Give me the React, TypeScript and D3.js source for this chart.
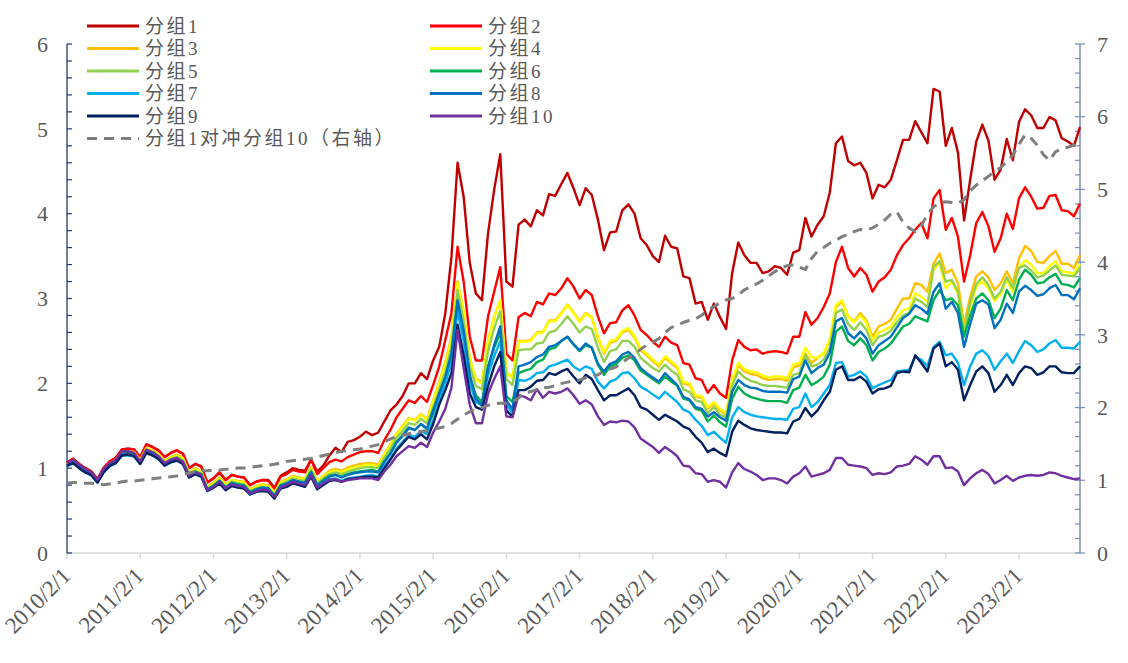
import * as d3 from "d3";

// month index 0 = 2010/2 ... 166 = 2023/12
const xTickLabels = [
  "2010/2/1", "2011/2/1", "2012/2/1", "2013/2/1", "2014/2/1", "2015/2/1", "2016/2/1",
  "2017/2/1", "2018/2/1", "2019/2/1", "2020/2/1", "2021/2/1", "2022/2/1", "2023/2/1",
];

const g1 = [
  1.07, 1.11, 1.05, 1.0, 0.96, 0.87, 1.0, 1.08, 1.12, 1.22, 1.23, 1.22, 1.13, 1.28, 1.25, 1.21, 1.13, 1.18, 1.21, 1.17,
  1.0, 1.05, 1.02, 0.83, 0.88, 0.95, 0.86, 0.92, 0.9, 0.89, 0.8, 0.84, 0.86, 0.86, 0.77, 0.91, 0.95, 1.0, 0.98, 0.97,
  1.1, 0.96, 1.03, 1.15, 1.24, 1.19, 1.31, 1.33, 1.37, 1.43, 1.39, 1.42, 1.55, 1.68, 1.75, 1.85, 2.0, 2.0, 2.12, 2.05,
  2.27, 2.43, 2.83, 3.49, 4.6, 4.2, 3.42, 3.06, 2.98, 3.77, 4.28, 4.7, 3.2, 3.14, 3.87, 3.93, 3.85, 4.04, 3.98, 4.23,
  4.21, 4.35, 4.48, 4.3, 4.1, 4.3, 4.22, 3.93, 3.57, 3.78, 3.79, 4.04, 4.11, 4.0, 3.71, 3.63, 3.5, 3.43, 3.74, 3.61,
  3.59, 3.26, 3.24, 2.94, 2.96, 2.75, 2.94, 2.78, 2.64, 3.3, 3.66, 3.51, 3.42, 3.42, 3.3, 3.32, 3.38, 3.36, 3.28, 3.54,
  3.57, 3.95, 3.73, 3.87, 3.97, 4.25, 4.83, 4.91, 4.62, 4.57, 4.6, 4.48, 4.18, 4.34, 4.31, 4.4, 4.63, 4.87, 4.87, 5.09,
  4.96, 4.83, 5.47, 5.44, 4.8, 5.01, 4.72, 3.92, 4.4, 4.85, 5.05, 4.86, 4.4, 4.52, 4.88, 4.63, 5.08, 5.23, 5.16, 5.01,
  5.01, 5.14, 5.1, 4.89, 4.85, 4.8, 5.02,
];

const g2 = [
  1.07, 1.11, 1.05, 1.0, 0.96, 0.87, 1.0, 1.08, 1.12, 1.22, 1.23, 1.22, 1.13, 1.28, 1.25, 1.21, 1.13, 1.18, 1.21, 1.17,
  1.0, 1.05, 1.02, 0.83, 0.88, 0.95, 0.86, 0.92, 0.9, 0.89, 0.8, 0.84, 0.86, 0.85, 0.76, 0.9, 0.93, 0.98, 0.96, 0.95,
  1.1, 0.93, 1.0, 1.07, 1.1, 1.08, 1.13, 1.16, 1.19, 1.2, 1.2, 1.18, 1.33, 1.45, 1.6, 1.7, 1.8, 1.77, 1.85, 1.78,
  1.98, 2.2, 2.51, 2.83, 3.61, 3.2, 2.55, 2.27, 2.27, 2.79, 3.08, 3.37, 2.35, 2.27, 2.78, 2.83, 2.79, 2.96, 2.93, 3.06,
  3.04, 3.12, 3.24, 3.14, 3.0, 3.1, 3.04, 2.79, 2.59, 2.71, 2.72, 2.86, 2.92, 2.8, 2.63, 2.57, 2.49, 2.43, 2.55, 2.48,
  2.45, 2.24, 2.22, 2.06, 2.04, 1.89, 1.98, 1.88, 1.83, 2.27, 2.51, 2.43, 2.39, 2.4, 2.35, 2.37, 2.38, 2.37, 2.35, 2.55,
  2.55, 2.84, 2.69, 2.77, 2.9, 3.06, 3.43, 3.61, 3.36, 3.26, 3.36, 3.28, 3.08, 3.2, 3.25, 3.34, 3.51, 3.63, 3.71, 3.81,
  3.89, 3.71, 4.18, 4.28, 3.81, 3.95, 3.73, 3.2, 3.51, 3.89, 4.02, 3.85, 3.55, 3.71, 4.0, 3.82, 4.18, 4.31, 4.2, 4.06,
  4.07, 4.21, 4.22, 4.04, 4.03, 3.97, 4.12,
];

const g3 = [
  1.05, 1.09, 1.03, 0.98, 0.94, 0.85, 0.98, 1.06, 1.1, 1.19, 1.2, 1.19, 1.1, 1.24, 1.21, 1.17, 1.09, 1.13, 1.16, 1.12,
  0.95, 1.0, 0.96, 0.78, 0.83, 0.89, 0.81, 0.86, 0.85, 0.84, 0.75, 0.79, 0.81, 0.8, 0.71, 0.84, 0.87, 0.91, 0.89, 0.88,
  1.01, 0.85, 0.91, 0.97, 0.99, 0.97, 1.01, 1.03, 1.05, 1.06, 1.06, 1.04, 1.17, 1.28, 1.41, 1.5, 1.59, 1.57, 1.64, 1.58,
  1.8, 2.02, 2.25, 2.55, 3.2, 2.85, 2.3, 2.05, 2.02, 2.5, 2.78, 2.98, 2.13, 2.07, 2.5, 2.5, 2.51, 2.6, 2.61, 2.74,
  2.74, 2.83, 2.93, 2.84, 2.73, 2.83, 2.78, 2.53, 2.35, 2.48, 2.5, 2.6, 2.63, 2.54, 2.39, 2.33, 2.26, 2.2, 2.3, 2.24,
  2.18, 2.0, 1.98, 1.84, 1.83, 1.7, 1.76, 1.68, 1.63, 2.02, 2.21, 2.14, 2.11, 2.1, 2.06, 2.04, 2.05, 2.05, 2.03, 2.19,
  2.21, 2.35, 2.24, 2.3, 2.35, 2.51, 2.9, 2.96, 2.79, 2.73, 2.83, 2.74, 2.55, 2.67, 2.7, 2.75, 2.88, 3.0, 3.0, 3.18,
  3.16, 3.08, 3.41, 3.53, 3.3, 3.34, 3.18, 2.69, 3.02, 3.26, 3.32, 3.25, 3.1, 3.18, 3.32, 3.18, 3.47, 3.62, 3.56, 3.43,
  3.42, 3.5, 3.56, 3.41, 3.41, 3.36, 3.51,
];

const g4 = [
  1.04, 1.08, 1.02, 0.97, 0.93, 0.84, 0.97, 1.05, 1.08, 1.18, 1.19, 1.18, 1.09, 1.23, 1.2, 1.16, 1.08, 1.12, 1.15, 1.11,
  0.94, 0.99, 0.95, 0.77, 0.82, 0.88, 0.8, 0.86, 0.84, 0.83, 0.74, 0.78, 0.8, 0.79, 0.7, 0.83, 0.86, 0.9, 0.88, 0.87,
  1.0, 0.84, 0.9, 0.95, 0.97, 0.95, 0.99, 1.0, 1.02, 1.04, 1.04, 1.02, 1.16, 1.27, 1.4, 1.49, 1.58, 1.56, 1.63, 1.57,
  1.78, 2.0, 2.22, 2.52, 3.18, 2.83, 2.28, 2.04, 2.0, 2.5, 2.78, 2.98, 2.12, 2.06, 2.49, 2.49, 2.5, 2.59, 2.6, 2.73,
  2.73, 2.82, 2.92, 2.83, 2.72, 2.82, 2.77, 2.55, 2.37, 2.5, 2.52, 2.62, 2.65, 2.56, 2.41, 2.35, 2.28, 2.22, 2.32, 2.26,
  2.2, 2.02, 2.0, 1.86, 1.85, 1.72, 1.78, 1.7, 1.65, 2.05, 2.24, 2.17, 2.14, 2.13, 2.09, 2.07, 2.08, 2.08, 2.06, 2.22,
  2.24, 2.42, 2.31, 2.3, 2.36, 2.52, 2.92, 2.98, 2.78, 2.72, 2.8, 2.71, 2.51, 2.6, 2.63, 2.67, 2.78, 2.86, 2.88, 3.06,
  3.02, 2.96, 3.34, 3.41, 3.12, 3.2, 3.05, 2.63, 2.9, 3.14, 3.2, 3.12, 2.97, 3.05, 3.22, 3.08, 3.36, 3.45, 3.4, 3.3,
  3.3, 3.38, 3.44, 3.32, 3.31, 3.29, 3.41,
];

const g5 = [
  1.04, 1.08, 1.02, 0.97, 0.93, 0.84, 0.97, 1.04, 1.08, 1.17, 1.18, 1.17, 1.08, 1.22, 1.19, 1.15, 1.07, 1.11, 1.13, 1.09,
  0.93, 0.97, 0.94, 0.76, 0.8, 0.86, 0.78, 0.84, 0.82, 0.81, 0.73, 0.76, 0.78, 0.77, 0.69, 0.81, 0.84, 0.88, 0.86, 0.85,
  0.98, 0.82, 0.88, 0.93, 0.95, 0.93, 0.96, 0.98, 1.0, 1.01, 1.01, 1.0, 1.12, 1.23, 1.36, 1.44, 1.53, 1.51, 1.58, 1.53,
  1.72, 1.93, 2.14, 2.43, 3.1, 2.73, 2.2, 1.97, 1.93, 2.38, 2.65, 2.85, 2.05, 1.98, 2.39, 2.4, 2.4, 2.47, 2.48, 2.6,
  2.62, 2.7, 2.79, 2.7, 2.6, 2.67, 2.64, 2.42, 2.25, 2.38, 2.4, 2.5, 2.5, 2.43, 2.3, 2.24, 2.18, 2.14, 2.22, 2.15,
  2.1, 1.93, 1.9, 1.8, 1.78, 1.65, 1.72, 1.63, 1.6, 1.97, 2.14, 2.07, 2.03, 2.01, 1.98, 1.97, 1.97, 1.96, 1.95, 2.1,
  2.12, 2.33, 2.2, 2.22, 2.28, 2.42, 2.83, 2.87, 2.7, 2.63, 2.72, 2.63, 2.45, 2.55, 2.57, 2.62, 2.72, 2.8, 2.83, 3.0,
  2.96, 2.9, 3.37, 3.44, 3.2, 3.22, 3.08, 2.6, 2.95, 3.17, 3.25, 3.16, 3.0, 3.08, 3.25, 3.12, 3.36, 3.39, 3.33, 3.25,
  3.27, 3.33, 3.39, 3.28, 3.27, 3.26, 3.36,
];

const g6 = [
  1.03, 1.07, 1.01, 0.96, 0.92, 0.84, 0.96, 1.04, 1.07, 1.17, 1.18, 1.16, 1.07, 1.21, 1.18, 1.13, 1.05, 1.1, 1.12, 1.08,
  0.92, 0.96, 0.93, 0.75, 0.79, 0.85, 0.77, 0.83, 0.81, 0.8, 0.72, 0.75, 0.77, 0.76, 0.68, 0.8, 0.82, 0.86, 0.84, 0.83,
  0.96, 0.8, 0.86, 0.91, 0.92, 0.9, 0.93, 0.95, 0.96, 0.97, 0.98, 0.96, 1.08, 1.18, 1.31, 1.39, 1.48, 1.45, 1.52, 1.46,
  1.65, 1.85, 2.05, 2.32, 2.95, 2.6, 2.08, 1.86, 1.78, 2.2, 2.42, 2.6, 1.85, 1.78, 2.12, 2.15, 2.17, 2.25, 2.28, 2.4,
  2.42, 2.5, 2.55, 2.46, 2.38, 2.45, 2.42, 2.22, 2.1, 2.2, 2.23, 2.3, 2.33, 2.27, 2.15, 2.1, 2.05, 2.0, 2.08, 2.02,
  1.97, 1.82, 1.8, 1.7, 1.68, 1.55, 1.62, 1.54, 1.49, 1.82, 1.96, 1.88, 1.84, 1.82, 1.8, 1.79, 1.79, 1.79, 1.77, 1.92,
  1.95, 2.1, 1.98, 2.02, 2.08, 2.22, 2.61, 2.67, 2.5, 2.45, 2.53, 2.45, 2.27, 2.37, 2.41, 2.47, 2.57, 2.67, 2.7, 2.79,
  2.76, 2.73, 2.98, 3.1, 2.98, 3.0, 2.92, 2.55, 2.8, 3.0, 3.06, 2.98, 2.77, 2.88, 3.1, 2.98, 3.22, 3.34, 3.28, 3.18,
  3.19, 3.25, 3.29, 3.17, 3.16, 3.13, 3.24,
];

const g7 = [
  1.02, 1.06, 1.0, 0.95, 0.91, 0.83, 0.95, 1.02, 1.06, 1.15, 1.15, 1.14, 1.05, 1.18, 1.15, 1.11, 1.03, 1.07, 1.09, 1.05,
  0.89, 0.93, 0.9, 0.73, 0.77, 0.83, 0.75, 0.8, 0.78, 0.77, 0.69, 0.73, 0.74, 0.74, 0.65, 0.77, 0.79, 0.83, 0.81, 0.8,
  0.92, 0.77, 0.82, 0.87, 0.88, 0.85, 0.88, 0.89, 0.9, 0.91, 0.92, 0.9, 1.02, 1.11, 1.23, 1.31, 1.39, 1.37, 1.44, 1.4,
  1.56, 1.8, 2.0, 2.25, 2.85, 2.5, 2.0, 1.78, 1.74, 2.1, 2.32, 2.5, 1.75, 1.65, 2.04, 2.03, 2.06, 2.12, 2.13, 2.2,
  2.22, 2.25, 2.28, 2.2, 2.15, 2.2, 2.17, 2.02, 1.94, 2.02, 2.05, 2.12, 2.13, 2.06, 1.96, 1.92, 1.87, 1.82, 1.9, 1.84,
  1.78, 1.69, 1.66, 1.57, 1.5, 1.39, 1.43, 1.36, 1.3, 1.6, 1.72, 1.66, 1.63, 1.61, 1.6, 1.59, 1.58, 1.58, 1.57, 1.7,
  1.72, 1.88, 1.72, 1.78, 1.88, 1.98, 2.24, 2.25, 2.08, 2.1, 2.14, 2.08, 1.94, 1.98, 2.01, 2.04, 2.14, 2.15, 2.16, 2.31,
  2.28, 2.2, 2.43, 2.49, 2.33, 2.35, 2.24, 1.98, 2.2, 2.35, 2.39, 2.32, 2.16, 2.26, 2.35, 2.24, 2.38, 2.5, 2.45, 2.37,
  2.4, 2.47, 2.51, 2.42, 2.42, 2.41, 2.49,
];

const g8 = [
  1.03, 1.07, 1.01, 0.96, 0.92, 0.84, 0.96, 1.03, 1.07, 1.16, 1.17, 1.15, 1.07, 1.2, 1.17, 1.13, 1.05, 1.09, 1.11, 1.07,
  0.91, 0.95, 0.92, 0.75, 0.79, 0.85, 0.77, 0.82, 0.8, 0.79, 0.71, 0.75, 0.77, 0.76, 0.67, 0.79, 0.82, 0.86, 0.84, 0.83,
  0.95, 0.8, 0.85, 0.9, 0.92, 0.89, 0.92, 0.94, 0.95, 0.96, 0.96, 0.95, 1.07, 1.17, 1.3, 1.38, 1.47, 1.45, 1.52, 1.47,
  1.68, 1.88, 2.08, 2.35, 2.98, 2.62, 2.1, 1.82, 1.74, 2.18, 2.45, 2.67, 1.8, 1.69, 2.2, 2.22, 2.25, 2.31, 2.34, 2.43,
  2.45, 2.5, 2.55, 2.46, 2.39, 2.47, 2.42, 2.23, 2.14, 2.23, 2.26, 2.34, 2.37, 2.3, 2.18, 2.12, 2.07, 2.02, 2.12, 2.05,
  1.98, 1.84, 1.81, 1.72, 1.7, 1.61, 1.66, 1.6, 1.56, 1.9, 2.04, 1.98, 1.95, 1.94, 1.91, 1.9, 1.9, 1.9, 1.89, 2.05,
  2.08, 2.27, 2.12, 2.18, 2.22, 2.36, 2.73, 2.77, 2.59, 2.53, 2.61, 2.53, 2.35, 2.45, 2.5, 2.55, 2.66, 2.77, 2.82, 2.92,
  2.88, 2.82, 3.08, 3.18, 2.88, 2.96, 2.83, 2.43, 2.7, 2.94, 2.98, 2.93, 2.65, 2.75, 2.94, 2.83, 3.08, 3.15, 3.1, 3.03,
  3.05, 3.12, 3.16, 3.04, 3.04, 2.99, 3.12,
];

const g9 = [
  1.03, 1.06, 1.0, 0.95, 0.92, 0.83, 0.95, 1.03, 1.06, 1.15, 1.16, 1.14, 1.05, 1.18, 1.15, 1.11, 1.03, 1.07, 1.09, 1.05,
  0.89, 0.93, 0.9, 0.73, 0.77, 0.82, 0.74, 0.79, 0.77, 0.76, 0.69, 0.72, 0.73, 0.72, 0.64, 0.76, 0.78, 0.82, 0.8, 0.78,
  0.9, 0.75, 0.8, 0.85, 0.86, 0.84, 0.87, 0.88, 0.89, 0.9, 0.9, 0.89, 1.0, 1.1, 1.21, 1.29, 1.37, 1.34, 1.4, 1.34,
  1.52, 1.75, 1.92, 2.12, 2.69, 2.33, 1.88, 1.72, 1.69, 1.97, 2.2, 2.37, 1.68, 1.61, 1.92, 1.92, 1.96, 2.03, 2.04, 2.12,
  2.1, 2.14, 2.17, 2.08, 2.0, 2.1, 2.05, 1.92, 1.8, 1.86, 1.86, 1.9, 1.94, 1.86, 1.72, 1.69, 1.63, 1.57, 1.63, 1.59,
  1.55, 1.49, 1.46, 1.37, 1.3, 1.19, 1.23, 1.18, 1.14, 1.43, 1.56, 1.51, 1.47, 1.45, 1.44, 1.43, 1.42, 1.42, 1.41, 1.55,
  1.58, 1.71, 1.61, 1.68, 1.8, 1.9, 2.16, 2.2, 2.04, 2.04, 2.08, 2.02, 1.88, 1.93, 1.94, 1.97, 2.12, 2.14, 2.13, 2.33,
  2.24, 2.14, 2.41, 2.47, 2.2, 2.25, 2.16, 1.8, 1.98, 2.14, 2.2, 2.12, 1.9, 1.98, 2.1, 1.98, 2.12, 2.2, 2.18, 2.1,
  2.13, 2.2, 2.2, 2.13, 2.12, 2.12, 2.2,
];

const g10 = [
  1.06, 1.1, 1.04, 0.99, 0.95, 0.86, 0.99, 1.06, 1.1, 1.2, 1.2, 1.18, 1.08, 1.22, 1.19, 1.14, 1.06, 1.1, 1.12, 1.07,
  0.91, 0.95, 0.92, 0.74, 0.78, 0.84, 0.76, 0.81, 0.79, 0.78, 0.7, 0.73, 0.75, 0.74, 0.66, 0.77, 0.8, 0.84, 0.82, 0.8,
  0.92, 0.77, 0.82, 0.86, 0.87, 0.84, 0.86, 0.87, 0.88, 0.88, 0.88, 0.86, 0.96, 1.04, 1.14, 1.2, 1.26, 1.24, 1.3, 1.25,
  1.42, 1.55, 1.7, 1.95, 2.63, 2.18, 1.75, 1.53, 1.53, 1.88, 2.05, 2.2, 1.61, 1.6, 1.86, 1.84, 1.8, 1.93, 1.83, 1.9,
  1.88, 1.9, 1.94, 1.86, 1.76, 1.8, 1.75, 1.61, 1.51, 1.55, 1.54, 1.56, 1.55, 1.48, 1.35, 1.3, 1.25, 1.18, 1.25, 1.2,
  1.14, 1.03, 1.02, 0.94, 0.93, 0.84, 0.86, 0.84, 0.77, 0.95, 1.06, 0.99, 0.96, 0.92, 0.86, 0.88, 0.88, 0.86, 0.82, 0.9,
  0.94, 1.02, 0.9, 0.92, 0.94, 0.98, 1.12, 1.12, 1.04, 1.03, 1.02, 1.0, 0.92, 0.94, 0.93, 0.95, 1.02, 1.03, 1.05, 1.14,
  1.1, 1.04, 1.14, 1.14, 1.0, 1.01, 0.96, 0.8, 0.88, 0.94, 0.98, 0.93, 0.82, 0.86, 0.91, 0.85, 0.89, 0.91, 0.92, 0.91,
  0.92, 0.95, 0.94, 0.91, 0.89, 0.87, 0.88,
];

// 分组1对冲分组10, right axis
const hedge = [
  0.96, 0.97, 0.97, 0.96, 0.96, 0.95, 0.94, 0.95, 0.96, 0.98, 0.99, 0.99, 1.0, 1.01, 1.02, 1.03, 1.04, 1.05, 1.06, 1.08,
  1.1, 1.12, 1.13, 1.13, 1.14, 1.14, 1.15, 1.16, 1.17, 1.17, 1.18, 1.19, 1.2, 1.21, 1.22, 1.24, 1.26, 1.27, 1.28, 1.29,
  1.3, 1.32, 1.34, 1.36, 1.38, 1.4, 1.41, 1.42, 1.43, 1.45, 1.47, 1.49, 1.53, 1.57, 1.6, 1.62, 1.64, 1.66, 1.67, 1.68,
  1.7, 1.72, 1.74, 1.78, 1.84, 1.9, 1.94, 1.98, 2.0, 2.03, 2.05, 2.06, 2.06, 2.08, 2.13, 2.2, 2.22, 2.25, 2.27, 2.28,
  2.3, 2.33, 2.35, 2.37, 2.38, 2.41, 2.43, 2.45, 2.5, 2.53, 2.56, 2.62, 2.68, 2.74, 2.8, 2.86, 2.9, 2.95, 3.03, 3.1,
  3.13, 3.17, 3.2, 3.22, 3.27, 3.33, 3.39, 3.44, 3.48, 3.5, 3.55, 3.62, 3.66, 3.7, 3.75, 3.81, 3.87, 3.92, 3.95, 3.96,
  3.93, 3.9, 4.05, 4.15, 4.2, 4.26, 4.3, 4.35, 4.38, 4.42, 4.45, 4.44, 4.47, 4.52, 4.58, 4.66, 4.69, 4.55, 4.47, 4.42,
  4.5, 4.66, 4.76, 4.82, 4.83, 4.82, 4.81, 4.86, 4.98, 5.06, 5.12, 5.18, 5.25, 5.3, 5.38, 5.47, 5.62, 5.75, 5.7, 5.61,
  5.48, 5.4, 5.52, 5.56, 5.58, 5.61, 5.65,
];

const series = [
  { name: "分组1", data: g1, color: "#C00000" },
  { name: "分组2", data: g2, color: "#FF0000" },
  { name: "分组3", data: g3, color: "#FFC000" },
  { name: "分组4", data: g4, color: "#FFFF00" },
  { name: "分组5", data: g5, color: "#92D050" },
  { name: "分组6", data: g6, color: "#00B050" },
  { name: "分组7", data: g7, color: "#00B0F0" },
  { name: "分组8", data: g8, color: "#0070C0" },
  { name: "分组9", data: g9, color: "#002060" },
  { name: "分组10", data: g10, color: "#7030A0" },
];

const FONT = "'Liberation Serif', 'Noto Sans CJK SC', serif";
const TXT = "#595959";

export default function App() {
  const left = 67, right = 1080, top = 44, bottom = 553;
  const x = d3.scaleLinear().domain([0, 166]).range([left, right]);
  const yL = d3.scaleLinear().domain([0, 6]).range([bottom, top]);
  const yR = d3.scaleLinear().domain([0, 7]).range([bottom, top]);

  const lineL = d3.line<number>().x((_, i) => x(i)).y((d) => yL(d));
  const lineR = d3.line<number>().x((_, i) => x(i)).y((d) => yR(d));

  const minorL = d3.range(0, 6.001, 0.2);
  const minorR = d3.range(0, 7.001, 0.2);

  // legend: two columns, odd groups left, even right
  const legRows = [26, 48.5, 71, 93.5, 116];
  const legend = series.map((s, k) => ({
    ...s,
    lx: k % 2 === 0 ? 87 : 430,
    ly: legRows[Math.floor(k / 2)],
  }));

  return (
    <div style={{ position: "absolute", left: 0, top: 0 }}>
      <svg width={1128} height={663} style={{ display: "block", background: "#fff" }}>
        {/* bottom axis */}
        <line x1={left} x2={right} y1={bottom} y2={bottom} stroke="#D9D9D9" strokeWidth={1.5} />
        {xTickLabels.map((lab, k) => (
          <g key={lab}>
            <line x1={x(k * 12)} x2={x(k * 12)} y1={bottom} y2={bottom + 6} stroke="#D9D9D9" strokeWidth={1.5} />
            <text
              transform={`translate(${x(k * 12) + 5},${577}) rotate(-45)`}
              textAnchor="end"
              fontFamily={FONT}
              fontSize={23}
              fill={TXT}
            >
              {lab}
            </text>
          </g>
        ))}

        {/* left axis */}
        <line x1={left} x2={left} y1={top} y2={bottom} stroke="#1F3A78" strokeWidth={1.3} />
        {minorL.map((v) => (
          <line key={"l" + v} x1={left} x2={left + 5} y1={yL(v)} y2={yL(v)} stroke="#1F3A78" strokeWidth={1.2} />
        ))}
        {d3.range(0, 7).map((v) => (
          <text key={"tl" + v} x={48} y={yL(v)} dy="0.35em" textAnchor="end" fontFamily={FONT} fontSize={22} fill={TXT}>
            {v}
          </text>
        ))}

        {/* right axis */}
        <line x1={right} x2={right} y1={top} y2={bottom} stroke="#7A8BB5" strokeWidth={1.5} />
        {minorR.map((v) => {
          const major = Math.abs(v - Math.round(v)) < 1e-6;
          return (
            <line key={"r" + v} x1={right - 5} x2={major ? right + 5 : right} y1={yR(v)} y2={yR(v)} stroke="#7A8BB5" strokeWidth={1.2} />
          );
        })}
        {d3.range(0, 8).map((v) => (
          <text key={"tr" + v} x={1097} y={yR(v)} dy="0.35em" textAnchor="start" fontFamily={FONT} fontSize={22} fill={TXT}>
            {v}
          </text>
        ))}

        {/* series */}
        {series.map((s) => (
          <path key={s.name} d={lineL(s.data) ?? ""} fill="none" stroke={s.color} strokeWidth={2.4} strokeLinejoin="round" />
        ))}
        <path d={lineR(hedge) ?? ""} fill="none" stroke="#7F7F7F" strokeWidth={3} strokeDasharray="10,7" />

        {/* legend */}
        {legend.map((s) => (
          <g key={"lg" + s.name}>
            <line x1={s.lx} x2={s.lx + 52} y1={s.ly} y2={s.ly} stroke={s.color} strokeWidth={3} />
            <text x={s.lx + 58} y={s.ly} dy="0.36em" fontFamily={FONT} fontSize={19} letterSpacing={2.5} fill={TXT}>
              {s.name}
            </text>
          </g>
        ))}
        <line x1={87} x2={139} y1={138.5} y2={138.5} stroke="#7F7F7F" strokeWidth={3} strokeDasharray="10,7" />
        <text x={145} y={138.5} dy="0.36em" fontFamily={FONT} fontSize={19} letterSpacing={2.5} fill={TXT}>
          分组1对冲分组10（右轴）
        </text>
      </svg>
    </div>
  );
}
